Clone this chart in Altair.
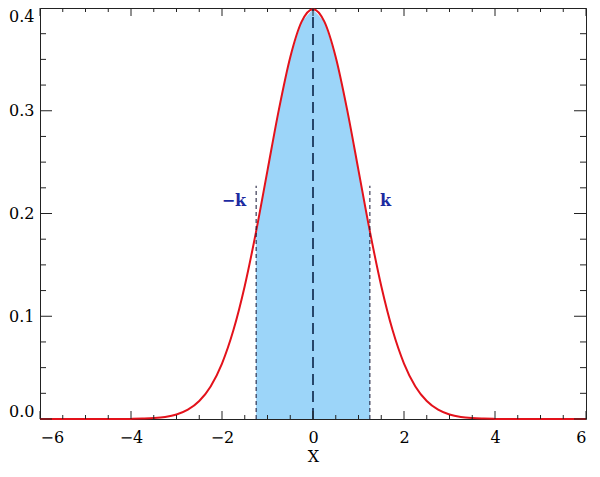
import altair as alt
import pandas as pd

# ---- data ----
x_vals = [-6.0, -5.75, -5.5, -5.25, -5.0, -4.75, -4.5, -4.25, -4.0, -3.75, -3.5, -3.25,
          -3.0, -2.75, -2.5, -2.25, -2.0, -1.75, -1.5, -1.25, -1.0, -0.75, -0.5, -0.25,
          0.0, 0.25, 0.5, 0.75, 1.0, 1.25, 1.5, 1.75, 2.0, 2.25, 2.5, 2.75,
          3.0, 3.25, 3.5, 3.75, 4.0, 4.25, 4.5, 4.75, 5.0, 5.25, 5.5, 5.75, 6.0]
y_vals = [0.0, 0.0, 0.0, 0.0, 0.0, 0.0, 0.0, 0.0, 0.0001, 0.0004, 0.0009, 0.0020,
          0.0044, 0.0091, 0.0175, 0.0317, 0.0540, 0.0863, 0.1295, 0.1826, 0.2420, 0.3011, 0.3521, 0.3867,
          0.3989, 0.3867, 0.3521, 0.3011, 0.2420, 0.1826, 0.1295, 0.0863, 0.0540, 0.0317, 0.0175, 0.0091,
          0.0044, 0.0020, 0.0009, 0.0004, 0.0001, 0.0, 0.0, 0.0, 0.0, 0.0, 0.0, 0.0, 0.0]
k_value = 1.25
peak_value = 0.3989
k_line_top = 0.227
k_label_y = 0.2125
k_labels = ["\u2212k", "k"]

x_major = [-6, -4, -2, 0, 2, 4, 6]
x_minor = [-5.5, -5, -4.5, -3.5, -3, -2.5, -1.5, -1, -0.5, 0.5, 1, 1.5, 2.5, 3, 3.5, 4.5, 5, 5.5]
y_major = [0.0, 0.1, 0.2, 0.3, 0.4]
y_minor = [0.025, 0.05, 0.075, 0.125, 0.15, 0.175, 0.225, 0.25, 0.275, 0.325, 0.35, 0.375]

W, H = 546, 411
TOTAL_W, TOTAL_H = 584, 460
PAD_L = 32
FONT = "DejaVu Serif"
FS = 16

curve = pd.DataFrame({"x": x_vals, "y": y_vals})
shade = curve[(curve.x >= -k_value) & (curve.x <= k_value)].copy()
shade["y0"] = 0.0

xs = alt.Scale(domain=[-6, 6], nice=False, zero=False)
ys = alt.Scale(domain=[0, 0.4], nice=False, zero=False)

x_axis = alt.Axis(values=x_major, format="d", grid=False, ticks=False, domain=False,
                  labelFont=FONT, labelFontSize=FS, labelColor="#000", labelPadding=10,
                  title="X", titleFont=FONT, titleFontSize=FS, titleFontWeight="normal",
                  titleColor="#000", titlePadding=3)
y_axis = alt.Axis(values=y_major, format=".1f", grid=False, ticks=False, domain=False,
                  labelFont=FONT, labelFontSize=FS, labelColor="#000", labelPadding=6,
                  labelFlush=True, title=None)


def X(field="x"):
    return alt.X(f"{field}:Q", scale=xs, axis=x_axis, title="X")


def Y(field="y"):
    return alt.Y(f"{field}:Q", scale=ys, axis=y_axis, title=None)


area = alt.Chart(shade).mark_area(color="#9cd5f9", opacity=1).encode(
    x=X(), y=Y(), y2="y0:Q",
)

line = alt.Chart(curve).mark_line(color="#e3121b", strokeWidth=2, interpolate="monotone").encode(
    x=X(), y=Y(),
)

center = alt.Chart(pd.DataFrame({"x": [0.0], "y": [0.0], "y2": [peak_value]})).mark_rule(
    color="#26466a", strokeWidth=2, strokeDash=[11, 6]
).encode(x=X(), y=Y(), y2="y2:Q")

kdf = pd.DataFrame({"x": [-k_value, k_value], "y": [0.0, 0.0], "y2": [k_line_top, k_line_top]})
klines = alt.Chart(kdf).mark_rule(color="#101030", strokeWidth=1, strokeDash=[4, 3]).encode(
    x=X(), y=Y(), y2="y2:Q")

ktxt_l = alt.Chart(pd.DataFrame({"x": [-k_value], "y": [k_label_y], "t": [k_labels[0]]})).mark_text(
    align="right", baseline="middle", dx=-10, font=FONT, fontSize=16, fontWeight="bold", color="#1c2aa0"
).encode(x=X(), y=Y(), text="t:N")
ktxt_r = alt.Chart(pd.DataFrame({"x": [k_value], "y": [k_label_y], "t": [k_labels[1]]})).mark_text(
    align="left", baseline="middle", dx=10, font=FONT, fontSize=16, fontWeight="bold", color="#1c2aa0"
).encode(x=X(), y=Y(), text="t:N")


def xticks(vals, length):
    d = pd.DataFrame({"x": vals})
    bot = alt.Chart(d).mark_rule(color="#222", strokeWidth=1).encode(
        x=X(), y=alt.value(H), y2=alt.value(H - length))
    top = alt.Chart(d).mark_rule(color="#222", strokeWidth=1).encode(
        x=X(), y=alt.value(0), y2=alt.value(length))
    return [bot, top]


def yticks(vals, length):
    d = pd.DataFrame({"y": vals})
    left = alt.Chart(d).mark_rule(color="#222", strokeWidth=1).encode(
        y=Y(), x=alt.value(0), x2=alt.value(length))
    right = alt.Chart(d).mark_rule(color="#222", strokeWidth=1).encode(
        y=Y(), x=alt.value(W), x2=alt.value(W - length))
    return [left, right]


ticks = xticks(x_major, 8) + xticks(x_minor, 4) + yticks(y_major, 12) + yticks(y_minor, 6)

chart = alt.layer(area, line, center, klines, ktxt_l, ktxt_r, *ticks).properties(
    width=W, height=H,
    autosize=alt.AutoSizeParams(type="none"),
    padding={"left": PAD_L, "top": 0, "right": TOTAL_W - PAD_L - W, "bottom": TOTAL_H - H},
    background="white",
).configure_view(stroke="#222", strokeWidth=1)

chart.save("out.html", embed_options={"renderer": "svg", "actions": False})
